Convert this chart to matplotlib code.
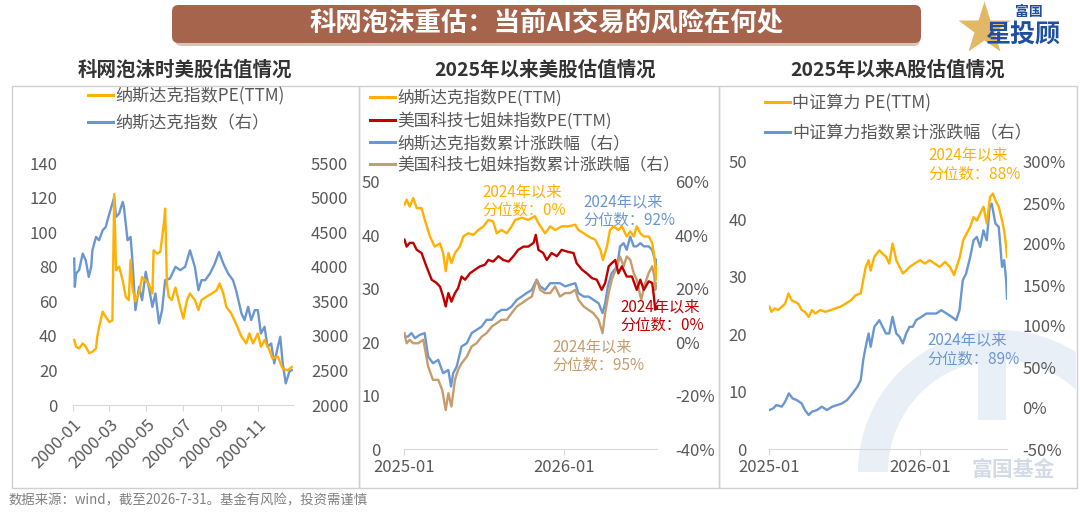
import matplotlib
matplotlib.use("Agg")
import matplotlib.pyplot as plt
import matplotlib.dates as mdates
from matplotlib.patches import FancyBboxPatch, Rectangle, Wedge
from matplotlib.lines import Line2D
import pandas as pd

plt.rcParams['font.family'] = ['Noto Sans CJK SC', 'DejaVu Sans']

# ---------------- DATA ----------------
# Panel 1: 2000 Nasdaq
p1_pe_dates = ["2000-01-03","2000-01-06","2000-01-11","2000-01-17","2000-01-22","2000-01-28","2000-02-02","2000-02-08",
    "2000-02-10","2000-02-13","2000-02-19","2000-02-24","2000-03-01","2000-03-06","2000-03-09","2000-03-12","2000-03-17",
    "2000-03-23","2000-03-28","2000-04-02","2000-04-05","2000-04-08","2000-04-13","2000-04-19","2000-04-24","2000-04-30",
    "2000-05-05","2000-05-11","2000-05-13","2000-05-19","2000-05-24","2000-05-30","2000-06-01","2000-06-04","2000-06-07",
    "2000-06-12","2000-06-18","2000-06-23","2000-07-01","2000-07-07","2000-07-12","2000-07-20","2000-07-26","2000-07-31",
    "2000-08-08","2000-08-17","2000-08-25","2000-08-30","2000-09-05","2000-09-10","2000-09-18","2000-09-26","2000-10-05",
    "2000-10-13","2000-10-18","2000-10-24","2000-11-01","2000-11-06","2000-11-12","2000-11-20","2000-11-25","2000-12-04",
    "2000-12-12","2000-12-20","2000-12-27"]
p1_pe = [37.6,33.7,32.7,35.6,33.7,29.9,30.8,32.7,39.5,45.0,54.0,51.0,48.0,49.0,122.0,78.0,80.0,72.0,62.6,60.7,84.0,68.0,
    60.0,64.5,74.0,72.0,70.0,64.5,89.5,87.6,88.6,105.0,113.6,70.0,62.6,60.7,68.0,60.7,50.0,60.7,64.5,60.7,55.0,60.7,
    62.6,64.5,66.4,70.3,64.5,56.8,53.0,47.0,39.5,35.6,41.4,35.6,41.4,33.7,37.6,31.8,27.0,28.0,21.0,20.0,22.0]

p1_idx_dates = ["2000-01-03","2000-01-04","2000-01-06","2000-01-11","2000-01-17","2000-01-22","2000-01-27","2000-01-31",
    "2000-02-02","2000-02-08","2000-02-13","2000-02-19","2000-02-24","2000-03-01","2000-03-06","2000-03-09","2000-03-12",
    "2000-03-17","2000-03-23","2000-03-25","2000-03-31","2000-04-05","2000-04-08","2000-04-13","2000-04-19","2000-04-24",
    "2000-04-30","2000-05-05","2000-05-11","2000-05-16","2000-05-22","2000-05-27","2000-06-01","2000-06-09","2000-06-18",
    "2000-06-26","2000-07-04","2000-07-12","2000-07-20","2000-07-26","2000-07-31","2000-08-06","2000-08-14","2000-08-22",
    "2000-08-29","2000-09-05","2000-09-13","2000-09-21","2000-09-26","2000-10-05","2000-10-10","2000-10-16","2000-10-21",
    "2000-10-27","2000-11-01","2000-11-06","2000-11-12","2000-11-17","2000-11-23","2000-11-28","2000-12-04","2000-12-08",
    "2000-12-12","2000-12-17","2000-12-23","2000-12-27"]
p1_idx = [4118,3709,3901,3950,4190,4094,3853,3998,4238,4431,4383,4527,4575,4768,4912,5009,4720,4768,4937,4864,4383,4431,
    4094,3372,3709,3516,3926,3709,3420,3613,3180,3372,3805,3829,3998,3950,3998,4238,3998,3661,3805,3805,3901,4046,4214,
    4046,3901,3805,3661,3324,3228,3420,3228,3372,3372,3035,3131,2842,2890,2602,2842,2987,2602,2313,2481,2505]

# Panel 2: US since 2025
p2_ndx_pe_dates = ["2025-01-02","2025-01-07","2025-01-14","2025-01-22","2025-01-30","2025-02-10","2025-02-17","2025-03-01",
    "2025-03-12","2025-03-24","2025-03-31","2025-04-06","2025-04-12","2025-04-19","2025-04-27","2025-05-08","2025-05-16",
    "2025-05-27","2025-06-08","2025-06-19","2025-07-01","2025-07-12","2025-07-23","2025-07-31","2025-08-11","2025-08-23",
    "2025-09-03","2025-09-11","2025-09-26","2025-10-11","2025-10-26","2025-11-03","2025-11-18","2025-11-30","2025-12-11",
    "2025-12-26","2026-01-10","2026-01-26","2026-02-02","2026-02-14","2026-02-25","2026-03-12","2026-03-24","2026-03-30",
    "2026-04-08","2026-04-15","2026-04-23","2026-05-04","2026-05-12","2026-05-23","2026-05-31","2026-06-08","2026-06-15",
    "2026-06-23","2026-07-01","2026-07-12","2026-07-20","2026-07-26","2026-07-29","2026-07-31"]
p2_ndx_pe = [45.75,46.7,45.4,47.0,45.1,45.1,43.0,39.8,37.9,38.5,36.7,33.3,36.7,34.8,36.7,37.9,39.8,40.4,40.1,41.0,41.7,
    42.9,42.6,40.4,41.0,40.4,41.7,42.9,43.3,42.9,43.6,42.3,40.4,41.7,41.0,41.7,41.7,42.0,41.0,40.4,39.8,39.2,37.3,35.4,
    37.9,41.0,41.7,41.0,41.7,39.8,40.75,39.8,41.7,40.4,39.8,39.8,38.6,35.4,31.7,34.2]

p2_m7_pe_dates = ["2025-01-02","2025-01-07","2025-01-14","2025-01-22","2025-01-30","2025-02-10","2025-02-21","2025-03-05",
    "2025-03-16","2025-03-24","2025-03-31","2025-04-06","2025-04-12","2025-04-19","2025-04-27","2025-05-04","2025-05-12",
    "2025-05-20","2025-05-31","2025-06-12","2025-06-23","2025-07-04","2025-07-12","2025-07-23","2025-08-04","2025-08-15",
    "2025-08-27","2025-09-07","2025-09-18","2025-09-30","2025-10-11","2025-10-23","2025-10-28","2025-11-03","2025-11-14",
    "2025-11-22","2025-12-03","2025-12-15","2025-12-26","2026-01-10","2026-01-22","2026-01-29","2026-02-10","2026-02-21",
    "2026-03-05","2026-03-16","2026-03-27","2026-04-04","2026-04-12","2026-04-19","2026-04-27","2026-05-04","2026-05-12",
    "2026-05-23","2026-06-04","2026-06-15","2026-06-23","2026-07-01","2026-07-12","2026-07-20","2026-07-23","2026-07-27",
    "2026-07-31"]
p2_m7_pe = [39.2,37.9,38.6,38.6,37.3,36.7,34.2,31.7,31.1,30.4,28.6,26.7,29.2,27.6,29.2,30.1,32.3,31.7,32.9,33.6,34.2,34.5,
    35.4,35.1,36.1,35.4,35.1,36.1,37.3,37.9,37.9,38.6,40.1,37.3,36.7,35.4,36.7,36.1,37.3,36.9,36.7,34.8,33.6,32.9,32.0,
    31.7,29.8,31.1,34.2,34.8,35.4,32.9,34.2,32.3,32.3,29.8,31.7,29.8,31.4,31.1,29.2,26.1,26.7]

p2_ndx_ret_dates = ["2025-01-02","2025-01-10","2025-01-18","2025-01-26","2025-02-06","2025-02-17","2025-02-25","2025-03-08",
    "2025-03-20","2025-03-31","2025-04-12","2025-04-18","2025-04-23","2025-05-01","2025-05-12","2025-05-24","2025-06-04",
    "2025-06-15","2025-06-27","2025-07-08","2025-07-20","2025-07-31","2025-08-11","2025-08-23","2025-09-03","2025-09-15",
    "2025-09-26","2025-10-07","2025-10-19","2025-10-30","2025-11-07","2025-11-18","2025-11-30","2025-12-11","2025-12-22",
    "2026-01-03","2026-01-14","2026-01-26","2026-02-02","2026-02-14","2026-02-25","2026-03-08","2026-03-20","2026-03-29",
    "2026-04-04","2026-04-10","2026-04-19","2026-05-01","2026-05-08","2026-05-16","2026-05-23","2026-05-31","2026-06-08",
    "2026-06-15","2026-06-23","2026-07-01","2026-07-12","2026-07-20","2026-07-26","2026-07-29","2026-07-31"]
p2_ndx_ret = [2.1,2.1,3.4,1.5,2.75,3.4,-5.4,-7.9,-6.6,-11.6,-10.4,-16.6,-11.6,-9.1,-1.6,-0.4,3.4,4.6,5.9,8.4,8.4,10.9,
    12.1,12.1,13.4,15.9,17.1,18.4,19.6,23.4,20.9,19.6,22.1,22.1,22.1,20.9,21.5,22.1,18.4,17.1,17.1,15.9,14.6,10.9,14.6,
    20.9,25.9,28.4,35.9,37.1,34.6,39.6,35.9,35.9,37.1,35.9,35.9,34.6,30.9,25.9,30.9]

p2_m7_ret_dates = ["2025-01-02","2025-01-07","2025-01-14","2025-01-22","2025-02-02","2025-02-14","2025-02-25","2025-03-08",
    "2025-03-20","2025-03-29","2025-04-06","2025-04-12","2025-04-19","2025-04-27","2025-05-04","2025-05-12","2025-05-24",
    "2025-06-04","2025-06-15","2025-06-27","2025-07-08","2025-07-20","2025-07-31","2025-08-11","2025-08-23","2025-09-03",
    "2025-09-15","2025-09-26","2025-10-07","2025-10-19","2025-10-30","2025-11-07","2025-11-18","2025-11-30","2025-12-11",
    "2025-12-22","2026-01-03","2026-01-14","2026-01-26","2026-02-02","2026-02-14","2026-02-25","2026-03-08","2026-03-20",
    "2026-03-29","2026-04-04","2026-04-12","2026-04-19","2026-05-01","2026-05-08","2026-05-16","2026-05-23","2026-05-31",
    "2026-06-08","2026-06-15","2026-06-25","2026-07-04","2026-07-12","2026-07-20","2026-07-25","2026-07-27","2026-07-31"]
p2_m7_ret = [3.4,-0.4,0.9,-0.4,-0.4,0.9,-9.1,-14.1,-14.1,-17.9,-25.4,-19.1,-24.1,-14.1,-10.4,-7.9,-5.4,-1.6,-0.4,2.1,
    3.4,5.9,7.1,8.4,8.4,10.9,13.4,14.6,15.9,17.1,23.4,19.6,18.4,18.4,20.9,17.1,18.4,18.4,19.6,15.9,13.4,12.1,10.9,8.4,
    3.4,10.9,18.4,23.4,28.4,32.1,28.4,32.1,30.9,25.9,23.4,15.9,22.1,25.9,28.4,24.6,19.6,22.1]

# Panel 3: A-shares since 2025
p3_pe_dates = ["2025-01-02","2025-01-07","2025-01-15","2025-01-23","2025-02-01","2025-02-09","2025-02-17","2025-02-25",
    "2025-03-05","2025-03-13","2025-03-21","2025-03-29","2025-04-07","2025-04-15","2025-04-23","2025-05-05","2025-05-17",
    "2025-05-30","2025-06-11","2025-06-23","2025-07-05","2025-07-18","2025-07-30","2025-08-11","2025-08-17","2025-08-23",
    "2025-08-30","2025-09-04","2025-09-13","2025-09-25","2025-10-03","2025-10-11","2025-10-19","2025-10-27","2025-11-05",
    "2025-11-13","2025-11-21","2025-11-29","2025-12-07","2025-12-19","2026-01-02","2026-01-13","2026-01-25","2026-02-06",
    "2026-02-18","2026-03-03","2026-03-15","2026-03-25","2026-03-31","2026-04-08","2026-04-16","2026-04-24","2026-05-03",
    "2026-05-11","2026-05-19","2026-05-27","2026-06-04","2026-06-12","2026-06-20","2026-06-27","2026-07-03","2026-07-11",
    "2026-07-19","2026-07-24","2026-07-29","2026-07-31"]
p3_pe = [24.8,23.9,24.5,24.2,24.8,25.3,27.1,25.9,25.6,25.3,24.2,23.9,23.0,24.2,23.6,24.2,23.9,24.2,24.5,24.8,25.3,25.9,
    26.8,27.1,29.4,31.7,32.9,31.1,33.5,34.6,34.0,33.5,32.3,35.8,32.9,31.7,30.6,31.1,31.7,32.3,32.9,32.3,32.9,32.3,31.7,
    32.6,31.7,30.3,31.7,33.5,36.4,37.5,38.7,40.4,39.8,41.0,42.2,39.3,43.9,44.5,43.3,42.2,39.8,38.1,35.2,33.5]

p3_ret_dates = ["2025-01-02","2025-01-11","2025-01-19","2025-02-01","2025-02-09","2025-02-18","2025-02-27","2025-03-09",
    "2025-03-21","2025-03-29","2025-04-07","2025-04-15","2025-04-27","2025-05-09","2025-05-21","2025-06-03","2025-06-15",
    "2025-06-27","2025-07-09","2025-07-22","2025-08-03","2025-08-11","2025-08-17","2025-08-23","2025-08-30","2025-09-04",
    "2025-09-13","2025-09-25","2025-10-03","2025-10-11","2025-10-19","2025-10-27","2025-11-05","2025-11-13","2025-11-21",
    "2025-11-29","2025-12-07","2025-12-15","2025-12-23","2026-01-05","2026-01-17","2026-01-29","2026-02-10","2026-02-22",
    "2026-03-07","2026-03-19","2026-03-30","2026-04-07","2026-04-15","2026-04-23","2026-05-03","2026-05-11","2026-05-19",
    "2026-05-27","2026-06-04","2026-06-12","2026-06-19","2026-06-24","2026-07-03","2026-07-11","2026-07-19","2026-07-24",
    "2026-07-29","2026-07-31"]
p3_ret = [-2.5,-0.5,3.6,1.6,7.7,17.8,11.7,9.7,5.6,-2.5,-8.6,-4.5,-2.5,1.6,-2.5,1.6,3.6,5.6,9.7,17.8,25.9,34.0,58.4,74.6,
    90.9,74.6,99.0,107.1,99.0,90.9,90.9,111.2,90.9,86.8,78.7,90.9,99.0,99.0,107.1,111.2,115.2,115.2,115.2,119.3,115.2,
    111.2,107.1,119.3,155.8,164.0,184.3,204.6,208.6,196.4,216.7,204.6,245.2,249.2,224.9,220.8,172.1,180.2,155.8,133.5]

title = "科网泡沫重估：当前AI交易的风险在何处"
subtitles = ["科网泡沫时美股估值情况", "2025年以来美股估值情况", "2025年以来A股估值情况"]
p1_labels = ["纳斯达克指数PE(TTM)", "纳斯达克指数（右）"]
p2_labels = ["纳斯达克指数PE(TTM)", "美国科技七姐妹指数PE(TTM)", "纳斯达克指数累计涨跌幅（右）", "美国科技七姐妹指数累计涨跌幅（右）"]
p3_labels = ["中证算力 PE(TTM)", "中证算力指数累计涨跌幅（右）"]
p2_notes = ["2024年以来\n分位数：0%", "2024年以来\n分位数：92%", "2024年以来\n分位数：0%", "2024年以来\n分位数：95%"]
p3_notes = ["2024年以来\n分位数：88%", "2024年以来\n分位数：89%"]
footer = "数据来源：wind，截至2026-7-31。基金有风险，投资需谨慎"

# ---------------- STYLE ----------------
ORANGE = "#FFB000"
BLUE = "#6A97D1"
RED = "#C00000"
TAN = "#C69C6D"
TICK = "#595959"
W, H = 1080, 514

fig = plt.figure(figsize=(W / 100, H / 100), dpi=100)
fig.patch.set_facecolor("white")

def fx(x):
    return x / W

def fy(y):
    return 1 - y / H

def axes_px(x0, x1, ybot, ytop):
    return fig.add_axes([fx(x0), fy(ybot), (x1 - x0) / W, (ybot - ytop) / H])

# panel frames
for (x0, x1) in [(12, 359), (359, 719), (719, 1077)]:
    fig.add_artist(Rectangle((fx(x0), fy(488)), (x1 - x0) / W, (488 - 86) / H, transform=fig.transFigure,
                             facecolor="none", edgecolor="#d0d0d0", lw=1.0, zorder=0))

# watermark logo in panel 3 (display pixel coords)
WM = "#e9eff7"
clip = Rectangle((fx(720), fy(487)), (1076 - 720) / W, (487 - 87) / H, transform=fig.transFigure, facecolor="none")
ring = Wedge((1000, H - 472), 142, 0, 180, width=30, transform=None, facecolor=WM, edgecolor="none", zorder=0)
ring.set_clip_path(clip)
fig.add_artist(ring)
fig.add_artist(Rectangle((978, H - 420), 28, 90, transform=None, facecolor=WM, edgecolor="none", zorder=0))
fig.text(fx(1013), fy(469), "富国基金", fontsize=15, color="#d3dbe7", fontweight="bold", ha="center", va="center", zorder=0)

# title banner
fig.add_artist(FancyBboxPatch((fx(175), fy(46)), (920 - 175) / W, 38 / H, boxstyle="round,pad=0,rounding_size=0.006",
                              transform=fig.transFigure, facecolor="#d9c3b9", edgecolor="none", zorder=1,
                              mutation_aspect=W / H))
fig.add_artist(FancyBboxPatch((fx(172), fy(43)), (921 - 172) / W, 38 / H, boxstyle="round,pad=0,rounding_size=0.006",
                              transform=fig.transFigure, facecolor="#A6644C", edgecolor="none", zorder=2,
                              mutation_aspect=W / H))
fig.text(fx(546), fy(24), title, fontsize=19, color="white", fontweight="bold", ha="center", va="center", zorder=3)

# logo
fig.add_artist(Line2D([fx(984)], [fy(29)], marker="*", markersize=40, color="#E2B866", markeredgecolor="none",
                      transform=fig.transFigure))
fig.text(fx(1029), fy(12), "富国", fontsize=10, color="#1F4FA0", fontweight="bold", ha="center", va="center")
fig.text(fx(1023), fy(35), "星投顾", fontsize=18, color="#1F4FA0", fontweight="bold", ha="center", va="center")

# subtitles
for xc, s in zip([185, 545, 898], subtitles):
    fig.text(fx(xc), fy(70), s, fontsize=14, fontweight="bold", color="#333333", ha="center", va="center")

def style_axes(ax, ax2, lpad, rpad):
    for a in (ax, ax2):
        for sp in a.spines.values():
            sp.set_visible(False)
        a.set_facecolor("none")
    ax.spines["bottom"].set_visible(True)
    ax.spines["bottom"].set_color("#d9d9d9")
    ax.tick_params(axis="y", length=0, labelsize=12, labelcolor=TICK, pad=lpad)
    ax2.tick_params(axis="y", length=0, labelsize=12, labelcolor=TICK, pad=rpad)
    ax.tick_params(axis="x", length=4, color="#d9d9d9", labelsize=12, labelcolor=TICK)

def todt(lst):
    return pd.to_datetime(lst)

LW = 1.7
LEG = 12.3
NOTE = 11

# ---------------- PANEL 1 ----------------
ax1 = axes_px(73, 293, 405, 163)
ax1b = ax1.twinx()
ax1b.plot(todt(p1_idx_dates), p1_idx, color=BLUE, lw=LW)
ax1.plot(todt(p1_pe_dates), p1_pe, color=ORANGE, lw=LW)
ax1.set_zorder(ax1b.get_zorder() + 1)
ax1.set_ylim(0, 140)
ax1.set_yticks(range(0, 141, 20))
ax1b.set_ylim(2000, 5500)
ax1b.set_yticks(range(2000, 5501, 500))
ax1.set_xlim(pd.Timestamp("2000-01-01"), pd.Timestamp("2000-12-29"))
ax1.set_xticks(pd.to_datetime(["2000-01-01", "2000-03-01", "2000-05-01", "2000-07-01", "2000-09-01", "2000-11-01"]))
ax1.xaxis.set_major_formatter(mdates.DateFormatter("%Y-%m"))
style_axes(ax1, ax1b, 11, 13)
for lbl in ax1.get_xticklabels():
    lbl.set_rotation(45)
    lbl.set_ha("right")
    lbl.set_rotation_mode("anchor")
ax1.tick_params(axis="x", pad=4)

h1 = [Line2D([], [], color=ORANGE, lw=2.2), Line2D([], [], color=BLUE, lw=2.2)]
fig.legend(h1, p1_labels, loc="upper left", bbox_to_anchor=(fx(88), fy(87)), frameon=False, fontsize=LEG,
           labelcolor=TICK, handlelength=1.45, handletextpad=0.15, labelspacing=0.5, borderaxespad=0, borderpad=0)

# ---------------- PANEL 2 ----------------
ax2 = axes_px(404, 657, 449, 182)
ax2b = ax2.twinx()
ax2b.plot(todt(p2_ndx_ret_dates), p2_ndx_ret, color=BLUE, lw=LW)
ax2b.plot(todt(p2_m7_ret_dates), p2_m7_ret, color=TAN, lw=LW)
ax2.plot(todt(p2_ndx_pe_dates), p2_ndx_pe, color=ORANGE, lw=LW)
ax2.plot(todt(p2_m7_pe_dates), p2_m7_pe, color=RED, lw=LW)
ax2.set_zorder(ax2b.get_zorder() + 1)
ax2.set_ylim(0, 50)
ax2.set_yticks(range(0, 51, 10))
ax2b.set_ylim(-40, 60)
ax2b.set_yticks(range(-40, 61, 20))
ax2b.set_yticklabels([f"{v}%" for v in range(-40, 61, 20)])
ax2.set_xlim(pd.Timestamp("2025-01-01"), pd.Timestamp("2026-07-31"))
ax2.set_xticks(pd.to_datetime(["2025-01-01", "2026-01-01"]))
ax2.xaxis.set_major_formatter(mdates.DateFormatter("%Y-%m"))
style_axes(ax2, ax2b, 17, 13)
ax2.tick_params(axis="x", pad=3)

h2 = [Line2D([], [], color=c, lw=2.2) for c in (ORANGE, RED, BLUE, TAN)]
fig.legend(h2, p2_labels, loc="upper left", bbox_to_anchor=(fx(370), fy(90)), frameon=False, fontsize=12,
           labelcolor=TICK, handlelength=1.5, handletextpad=0.15, labelspacing=0.3, borderaxespad=0, borderpad=0)

for (x, y), s, c in zip([(482, 183), (583, 193), (620, 298), (552, 338)], p2_notes, [ORANGE, BLUE, RED, TAN]):
    fig.text(fx(x), fy(y), s, fontsize=NOTE, color=c, ha="left", va="top", linespacing=1.15)

# ---------------- PANEL 3 ----------------
ax3 = axes_px(769, 1007, 449, 162)
ax3b = ax3.twinx()
ax3b.plot(todt(p3_ret_dates), p3_ret, color=BLUE, lw=LW)
ax3.plot(todt(p3_pe_dates), p3_pe, color=ORANGE, lw=LW)
ax3.set_zorder(ax3b.get_zorder() + 1)
ax3.set_ylim(0, 50)
ax3.set_yticks(range(0, 51, 10))
ax3b.set_ylim(-50, 300)
ax3b.set_yticks(range(-50, 301, 50))
ax3b.set_yticklabels([f"{v}%" for v in range(-50, 301, 50)])
ax3.set_xlim(pd.Timestamp("2025-01-01"), pd.Timestamp("2026-07-31"))
ax3.set_xticks(pd.to_datetime(["2025-01-01", "2026-01-01"]))
ax3.xaxis.set_major_formatter(mdates.DateFormatter("%Y-%m"))
style_axes(ax3, ax3b, 16, 11)
ax3.tick_params(axis="x", pad=3)

h3 = [Line2D([], [], color=c, lw=2.2) for c in (ORANGE, BLUE)]
fig.legend(h3, p3_labels, loc="upper left", bbox_to_anchor=(fx(765), fy(94)), frameon=False, fontsize=LEG,
           labelcolor=TICK, handlelength=1.45, handletextpad=0.15, labelspacing=0.7, borderaxespad=0, borderpad=0)

for (x, y), s, c in zip([(928, 146), (927, 331)], p3_notes, [ORANGE, BLUE]):
    fig.text(fx(x), fy(y), s, fontsize=NOTE, color=c, ha="left", va="top", linespacing=1.2)

# footer
fig.text(fx(9), fy(500), footer, fontsize=9.6, color="#808080", ha="left", va="center")

fig.savefig("out.png", dpi=100)
